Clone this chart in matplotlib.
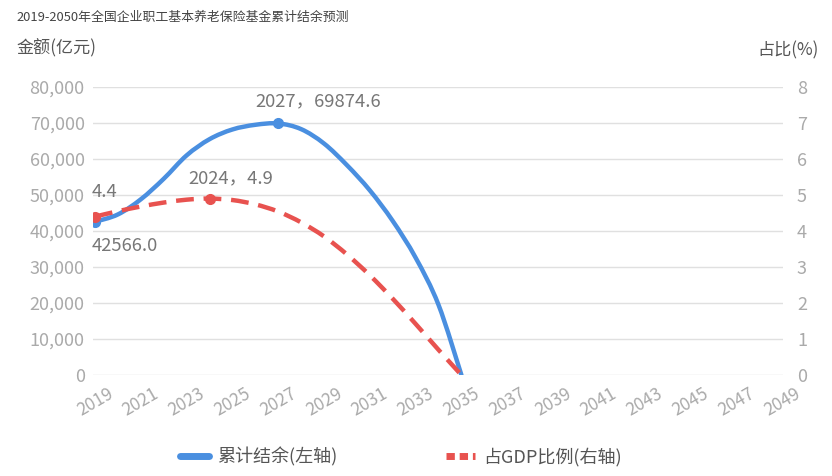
import matplotlib
matplotlib.use("Agg")
import matplotlib.pyplot as plt
from matplotlib.lines import Line2D
from matplotlib.path import Path
from matplotlib.patches import PathPatch
from matplotlib.ticker import FuncFormatter

plt.rcParams['font.family'] = ['Noto Sans CJK SC', 'DejaVu Sans']

# 数据
years = list(range(2019, 2036))
balance = [42566.0, 44600, 48800, 54500, 61000, 65500, 68200, 69500, 69874.6,
           68300, 64300, 58300, 51300, 42800, 32600, 19500, 0]
gdp_ratio = [4.4, 4.55, 4.68, 4.79, 4.87, 4.9, 4.86, 4.74, 4.54,
             4.24, 3.85, 3.35, 2.77, 2.12, 1.42, 0.7, 0]
tick_years = list(range(2019, 2050, 2))

title = '2019-2050年全国企业职工基本养老保险基金累计结余预测'
blue = '#4a8fe0'
red = '#e8524f'
W, H = 832, 476


def smooth_path(xs, ys):
    # 平滑曲线（类似 echarts smooth），用贝塞尔控制点连接各数据点
    pts = list(zip(xs, ys))
    verts = [pts[0]]
    codes = [Path.MOVETO]
    n = len(pts)
    for i in range(n - 1):
        p0 = pts[max(i - 1, 0)]
        p1 = pts[i]
        p2 = pts[i + 1]
        p3 = pts[min(i + 2, n - 1)]
        c1 = (p1[0] + (p2[0] - p0[0]) / 6, p1[1] + (p2[1] - p0[1]) / 6)
        c2 = (p2[0] - (p3[0] - p1[0]) / 6, p2[1] - (p3[1] - p1[1]) / 6)
        verts += [c1, c2, p2]
        codes += [Path.CURVE4] * 3
    return Path(verts, codes)


fig = plt.figure(figsize=(W / 100, H / 100), dpi=100)
ax = fig.add_axes([93 / W, 1 - 375 / H, 690 / W, 288 / H])
ax2 = ax.twinx()

ax.add_patch(PathPatch(smooth_path(years, balance), fill=False, edgecolor=blue,
                       lw=3.2, capstyle='round', zorder=3))
ax2.add_patch(PathPatch(smooth_path(years, gdp_ratio), fill=False, edgecolor=red,
                        lw=3.2, ls=(0, (4.0, 2.2)), zorder=3))

# 起点和最大值标记
i_max_b = balance.index(max(balance))
i_max_r = gdp_ratio.index(max(gdp_ratio))
ax.plot([years[0], years[i_max_b]], [balance[0], balance[i_max_b]], 'o',
        color=blue, ms=7, zorder=4)
ax2.plot([years[0], years[i_max_r]], [gdp_ratio[0], gdp_ratio[i_max_r]], 'o',
         color=red, ms=7, zorder=4)

lab = dict(textcoords='offset pixels', fontsize=13.3, color='#777777')
ax.annotate(f'{balance[0]:.1f}', (years[0], balance[0]), xytext=(-3, -24),
            ha='left', va='center', **lab)
ax.annotate(f'{years[i_max_b]}，{balance[i_max_b]:.1f}', (years[i_max_b], balance[i_max_b]),
            xytext=(40, 22), ha='center', va='center', **lab)
ax2.annotate(f'{gdp_ratio[0]:.1f}', (years[0], gdp_ratio[0]), xytext=(-3, 25),
             ha='left', va='center', **lab)
ax2.annotate(f'{years[i_max_r]}，{gdp_ratio[i_max_r]:.1f}', (years[i_max_r], gdp_ratio[i_max_r]),
             xytext=(21, 20), ha='center', va='center', **lab)

ax.set_xlim(2019 - 2 / 22.9, 2049 + 1 / 22.9)
ax.set_ylim(0, 80000)
ax2.set_ylim(0, 8)
ax.set_yticks(range(0, 80001, 10000))
ax2.set_yticks(range(0, 9))
ax.yaxis.set_major_formatter(FuncFormatter(lambda v, p: f'{int(v):,}'))
ax.set_xticks(tick_years)
ax.set_xticklabels([str(y) for y in tick_years], rotation=30, ha='center')

ax.grid(axis='y', color='#e0e0e0', lw=1)
ax.set_axisbelow(True)
for a in (ax, ax2):
    for s in a.spines.values():
        s.set_visible(False)
    a.tick_params(length=0, colors='#aaaaaa', labelsize=13)
ax.tick_params(axis='y', pad=6)
ax2.tick_params(axis='y', pad=10)
ax.tick_params(axis='x', pad=7, labelsize=12.5)

fig.text(16 / W, 1 - 17 / H, title, fontsize=9.3, color='#444444', va='center')
fig.text(17 / W, 1 - 48 / H, '金额(亿元)', fontsize=12.3, color='#555555', va='center')
fig.text(819 / W, 1 - 50 / H, '占比(%)', fontsize=12.3, color='#555555', va='center', ha='right')

handles = [Line2D([], [], color=blue, lw=5, solid_capstyle='round'),
           Line2D([], [], color=red, lw=5, ls=(0, (1.2, 0.7)))]
fig.legend(handles, ['累计结余(左轴)', '占GDP比例(右轴)'], ncol=2, frameon=False,
           loc='center', bbox_to_anchor=(401 / W, 1 - 457 / H), fontsize=13,
           handlelength=1.6, handletextpad=0.45, columnspacing=6.0, labelcolor='#555555')

fig.savefig('out.png', dpi=100, facecolor='white')
